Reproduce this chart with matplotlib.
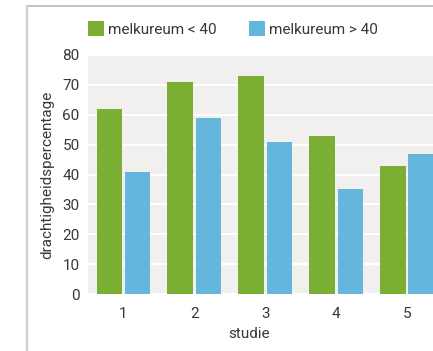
import matplotlib
matplotlib.use("Agg")
import matplotlib.pyplot as plt
from matplotlib.lines import Line2D
from matplotlib.patches import Patch
import numpy as np

studies = ["1", "2", "3", "4", "5"]
urea_low = [62, 71, 73, 53, 43]    # melkureum < 40
urea_high = [41, 59, 51, 35, 47]   # melkureum > 40
series_labels = ["melkureum < 40", "melkureum > 40"]
y_ticks = [0, 10, 20, 30, 40, 50, 60, 70, 80]

GREEN = "#7aaf33"
BLUE = "#64b6dc"
PANEL = "#f1f0ee"
TEXT = "#383838"
FS = 11

plt.rcParams["font.family"] = ["Roboto", "DejaVu Sans"]
plt.rcParams["font.size"] = FS

W, H = 433, 351
fig = plt.figure(figsize=(W / 100, H / 100), dpi=100)
fig.patch.set_facecolor("white")

# plot panel (right side runs past the page edge)
ax = fig.add_axes([88 / W, (H - 294) / H, 354.5 / W, (294 - 55) / H])
ax.set_facecolor(PANEL)

x = np.arange(len(studies))
bw = 0.36
off = 0.2
ax.bar(x - off, urea_low, width=bw, color=GREEN, zorder=3, label=series_labels[0])
ax.bar(x + off, urea_high, width=bw, color=BLUE, zorder=3, label=series_labels[1])

ax.set_xlim(-0.5, 4.5)
ax.set_ylim(0, 80)
ax.set_yticks(y_ticks)
ax.set_xticks(x)
ax.set_xticklabels(studies)
ax.yaxis.grid(True, color="white", linewidth=1.5, zorder=1)
ax.set_axisbelow(True)
for s in ax.spines.values():
    s.set_visible(False)
ax.tick_params(axis="both", length=0, colors=TEXT, labelsize=FS)
ax.tick_params(axis="x", pad=9)
ax.tick_params(axis="y", pad=6)

ax.set_ylabel("drachtigheidspercentage", color=TEXT, fontsize=FS)
ax.yaxis.set_label_coords((47 - 88) / 354.5, 0.5)
ax.yaxis.label.set_va("center")
ax.set_xlabel("studie", color=TEXT, fontsize=FS)
ax.xaxis.set_label_coords((249 - 88) / 354.5, -(334 - 294) / 239)
ax.xaxis.label.set_va("center")

handles = [Patch(facecolor=GREEN, edgecolor="none"), Patch(facecolor=BLUE, edgecolor="none")]
leg = fig.legend(handles, series_labels, loc="center left",
                 bbox_to_anchor=(87.7 / W, 1 - 29 / H), ncol=2, frameon=False,
                 handlelength=1.05, handleheight=1.05, handletextpad=0.28,
                 columnspacing=2.1, fontsize=FS, borderaxespad=0, borderpad=0)
for t in leg.get_texts():
    t.set_color(TEXT)

# page frame lines at top and left
fig.add_artist(Line2D([27 / W, 1], [1 - 6 / H, 1 - 6 / H], color="#b8b8b8", linewidth=1.2,
                      transform=fig.transFigure))
fig.add_artist(Line2D([27 / W, 27 / W], [0, 1 - 6 / H], color="#cfcfcf", linewidth=1.6,
                      transform=fig.transFigure))

fig.savefig("out.png", dpi=100)
